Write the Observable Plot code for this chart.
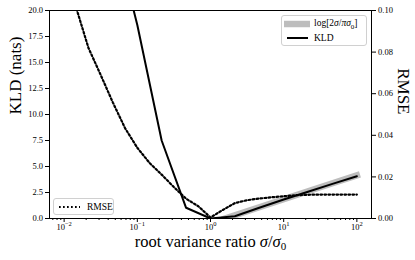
<!DOCTYPE html>
<html>
<head>
<meta charset="utf-8">
<script src="https://cdn.jsdelivr.net/npm/d3@7"></script>
<script src="https://cdn.jsdelivr.net/npm/@observablehq/plot@0.6"></script>
<style>
  body { margin: 0; background: #fff; }
  #wrap { position: relative; width: 415px; height: 260px; font-family: "Liberation Serif", serif; }
  .legend { position: absolute; border: 1px solid #d0d0d0; border-radius: 3px; background: rgba(255,255,255,0.85); box-sizing: border-box; font-size: 9.5px; color: #000; }
  .row { position: absolute; display: flex; align-items: center; white-space: nowrap; }
  .row svg { display: block; }
  .row span { margin-left: 4px; }
</style>
</head>
<body>
<div id="wrap"></div>
<script>
// KLD sampled every 1/3 decade
const sigmaCoarse = [0.01, 0.0215, 0.0464, 0.1, 0.215, 0.464, 1, 2.15, 4.64, 10, 21.5, 46.4, 100];
const kldValues   = [60, 42, 28, 18.6, 7.5, 1.03, 0.0, 0.22, 1.03, 1.83, 2.57, 3.33, 4.07];

// RMSE sampled every 1/6 decade
const sigmaFine = [0.01, 0.0147, 0.0215, 0.0316, 0.0464, 0.0681, 0.1, 0.147, 0.215, 0.316, 0.464, 0.681, 1,
                   1.47, 2.15, 3.16, 4.64, 6.81, 10, 14.7, 21.5, 31.6, 46.4, 68.1, 100];
const rmseValues = [0.125, 0.101, 0.082, 0.069, 0.0557, 0.0434, 0.034, 0.0267, 0.0211, 0.0151, 0.0095, 0.0059, 0.0005,
                    0.0041, 0.0074, 0.0088, 0.0096, 0.0102, 0.0107, 0.0112, 0.0114, 0.0115, 0.0115, 0.0115, 0.0115];

// reference log[2σ/πσ0]
const refSigma = [1.571, 2.15, 4.64, 10, 21.5, 46.4, 100];
const refValues = [0, 0.31, 1.08, 1.85, 2.62, 3.39, 4.15];

const xMajor = [0.01, 0.1, 1, 10, 100];
const xMajorExp = ["−2", "−1", "0", "1", "2"];
const kldTicks = [0, 2.5, 5, 7.5, 10, 12.5, 15, 17.5, 20];
const rmseTicks = [0, 0.02, 0.04, 0.06, 0.08, 0.10];
const rmseMax = 0.10, kldMax = 20;
const k = kldMax / rmseMax;

const xMinor = [];
for (let e = -3; e <= 2; e++) for (let m = 2; m <= 9; m++) {
  const v = m * Math.pow(10, e);
  if (v > Math.pow(10, -2.2) && v < Math.pow(10, 2.2)) xMinor.push(v);
}

const kldData = sigmaCoarse.map((s, i) => ({s, v: kldValues[i]}));
const rmseData = sigmaFine.map((s, i) => ({s, v: rmseValues[i] * k}));
const refData = refSigma.map((s, i) => ({s, v: refValues[i]}));

const chart = Plot.plot({
  width: 415, height: 260,
  marginLeft: 49, marginRight: 44, marginTop: 10, marginBottom: 42,
  style: {fontFamily: "Liberation Serif, serif", fontSize: "8.5px", background: "white", color: "black"},
  x: {type: "log", domain: [Math.pow(10, -2.2), Math.pow(10, 2.2)], label: null},
  y: {domain: [0, kldMax], label: null},
  marks: [
    Plot.line(refData, {x: "s", y: "v", stroke: "#bdbdbd", strokeWidth: 6.5, strokeLinecap: "square", clip: true}),
    Plot.line(kldData, {x: "s", y: "v", stroke: "black", strokeWidth: 2, clip: true}),
    Plot.line(rmseData, {x: "s", y: "v", stroke: "black", strokeWidth: 2.2, strokeDasharray: "1.7,2.3", clip: true}),
    Plot.frame({stroke: "black", strokeWidth: 1}),
    Plot.axisX({ticks: xMinor, tickSize: 2, tickFormat: () => ""}),
    Plot.axisX({ticks: xMajor, tickSize: 4, tickPadding: 1, fontSize: 8.5, tickFormat: d => "10^" + xMajorExp[xMajor.indexOf(d)]}),
    Plot.axisY({ticks: kldTicks, tickSize: 4, tickPadding: 2.5, fontSize: 8.5, tickFormat: d => d.toFixed(1)}),
    Plot.axisY({anchor: "right", ticks: rmseTicks.map(d => d * k), tickSize: 4, tickPadding: 2.5, fontSize: 8.5,
                tickFormat: d => (d / k).toFixed(2)}),
    Plot.text(["KLD (nats)"], {frameAnchor: "left", dx: -34, rotate: -90, fontSize: 17}),
    Plot.text(["root variance ratio σ/σ0"], {frameAnchor: "bottom", dy: 28, fontSize: 16.5}),
    Plot.text(["RMSE"], {frameAnchor: "right", dx: 31.5, rotate: 90, fontSize: 17})
  ]
});

// rich text formatting
chart.querySelectorAll("text").forEach(t => {
  const s = t.textContent;
  if (s.startsWith("10^")) {
    const exp = s.slice(3);
    t.innerHTML = `10<tspan dy="-4" font-size="6.5">${exp}</tspan>`;
  } else if (s === "root variance ratio σ/σ0") {
    t.innerHTML = `root variance ratio <tspan font-style="italic">σ</tspan>/<tspan font-style="italic">σ</tspan><tspan dy="3" font-size="11">0</tspan>`;
  }
});

const wrap = document.getElementById("wrap");
wrap.appendChild(chart);

// legends
const leg1 = document.createElement("div");
leg1.className = "legend";
Object.assign(leg1.style, {left: "281px", top: "15px", width: "86px", height: "31px"});
leg1.innerHTML = `
  <div class="row" style="left:2px; top:2px; height:12px;">
    <svg width="26" height="12"><line x1="0" x2="26" y1="6" y2="6" stroke="#bdbdbd" stroke-width="6.5"/></svg>
    <span>log[2<i>σ</i>/<i>πσ</i><sub style="font-size:7px">0</sub>]</span>
  </div>
  <div class="row" style="left:2px; top:16px; height:12px;">
    <svg width="26" height="12"><line x1="3" x2="24" y1="6" y2="6" stroke="black" stroke-width="2"/></svg>
    <span>KLD</span>
  </div>`;
wrap.appendChild(leg1);

const leg2 = document.createElement("div");
leg2.className = "legend";
Object.assign(leg2.style, {left: "53px", top: "198px", width: "61px", height: "17px"});
leg2.innerHTML = `
  <div class="row" style="left:3px; top:2px; height:12px;">
    <svg width="24" height="12"><line x1="2" x2="23" y1="6" y2="6" stroke="black" stroke-width="2.2" stroke-dasharray="1.7,2.3"/></svg>
    <span style="margin-left:6px">RMSE</span>
  </div>`;
wrap.appendChild(leg2);
</script>
</body>
</html>
